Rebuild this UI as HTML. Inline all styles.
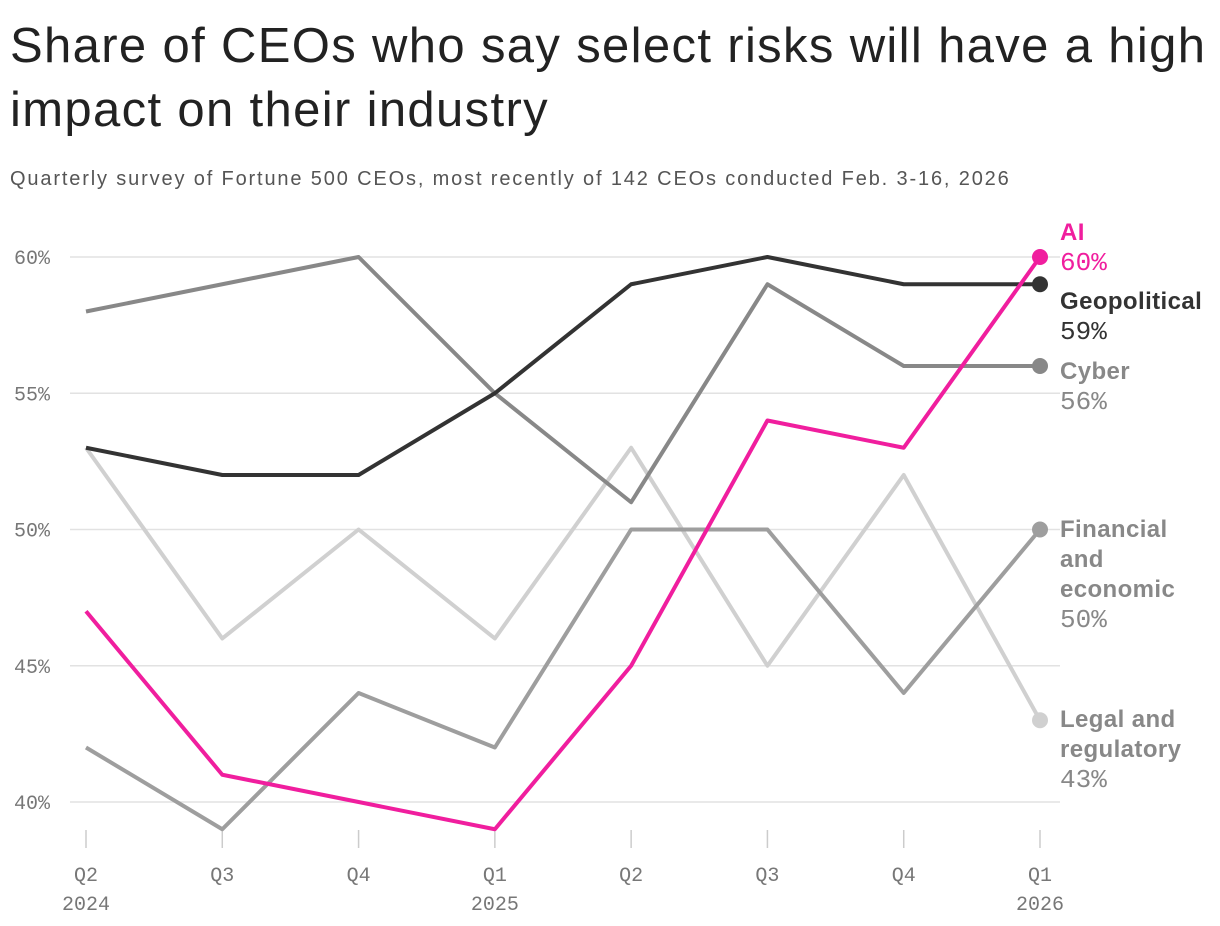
<!DOCTYPE html>
<html><head><meta charset="utf-8">
<style>
body{margin:0;background:#fff;width:1220px;height:926px;overflow:hidden;font-family:"Liberation Sans",sans-serif;}
h1{position:absolute;left:10px;top:14px;margin:0;font-size:49px;font-weight:400;line-height:64px;color:#222;width:1215px;letter-spacing:1.35px;white-space:nowrap}
.sub{position:absolute;left:10px;top:168px;font-size:20px;color:#555;letter-spacing:1.85px;white-space:nowrap}
svg{position:absolute;left:0;top:0}
</style></head><body>
<h1>Share of CEOs who say select risks will have a high<br>impact on their industry</h1>
<div class="sub">Quarterly survey of Fortune 500 CEOs, most recently of 142 CEOs conducted Feb. 3-16, 2026</div>
<svg id="c" width="1220" height="926"></svg>
<script>
const categories=["Q2|2024","Q3|","Q4|","Q1|2025","Q2|","Q3|","Q4|","Q1|2026"];
const yTicks=[40,45,50,55,60];
const aiVals=[47,41,40,39,45,54,53,60];
const geoVals=[53,52,52,55,59,60,59,59];
const cyberVals=[58,59,60,55,51,59,56,56];
const finVals=[42,39,44,42,50,50,44,50];
const legalVals=[53,46,50,46,53,45,52,43];
const svg=document.getElementById('c');
const NS='http://www.w3.org/2000/svg';
const x=i=>86+i*(1040-86)/(categories.length-1);
const y=v=>802-(v-40)*(802-257)/20;
function mk(t,a,p){const e=document.createElementNS(NS,t);for(const k in a)e.setAttribute(k,a[k]);(p||svg).appendChild(e);return e;}
yTicks.forEach(t=>{
 const g=mk('line',{x1:70,x2:1060,y1:y(t),y2:y(t),stroke:'#e2e2e2','stroke-width':1.5});
 
 
 const l=mk('text',{x:14,y:y(t)+7,'font-size':20,fill:'#777','font-family':'Liberation Mono, monospace'});l.textContent=t+'%';
 
 
});
categories.forEach((c,i)=>{
 const [a,b]=c.split('|');
 const tk=mk('line',{x1:x(i),x2:x(i),y1:830,y2:848,stroke:'#ccc','stroke-width':1.5});
 
 
 const t=mk('text',{x:x(i),y:881,'text-anchor':'middle','font-size':20,fill:'#777','font-family':'Liberation Mono, monospace'});t.textContent=a;
 
 
 if(b){const t2=mk('text',{x:x(i),y:910,'text-anchor':'middle','font-size':20,fill:'#777','font-family':'Liberation Mono, monospace'});t2.textContent=b;
 
 }
});
const series=[
 {n:'legal',v:legalVals,c:'#d0d0d0',lab:['Legal and','regulatory'],ly:727,tc:'#888'},
 {n:'financial',v:finVals,c:'#9e9e9e',lab:['Financial','and','economic'],ly:537,tc:'#888'},
 {n:'cyber',v:cyberVals,c:'#888',lab:['Cyber'],ly:379,tc:'#888'},
 {n:'geopolitical',v:geoVals,c:'#333',lab:['Geopolitical'],ly:309,tc:'#333'},
 {n:'ai',v:aiVals,c:'#f01e9e',lab:['AI'],ly:240,tc:'#f01e9e'}
];
series.forEach(s=>{
 const p=mk('polyline',{points:s.v.map((v,i)=>x(i)+','+y(v)).join(' '),fill:'none',stroke:s.c,'stroke-width':4,'stroke-linejoin':'round'});
 
 
 const last=s.v.length-1;
 const d=mk('circle',{cx:x(last),cy:y(s.v[last]),r:8,fill:s.c});
 
 
 let yy=s.ly;
 s.lab.forEach(l=>{const t=mk('text',{x:1060,y:yy,'font-size':24,'font-weight':'bold',fill:s.tc,'letter-spacing':0.4});t.textContent=l;
 
 yy+=30;});
 const t=mk('text',{x:1060,y:yy,'font-size':26,fill:s.tc,'font-family':'Liberation Mono, monospace'});t.textContent=s.v[last]+'%';
 
 
});
</script>
</body></html>
